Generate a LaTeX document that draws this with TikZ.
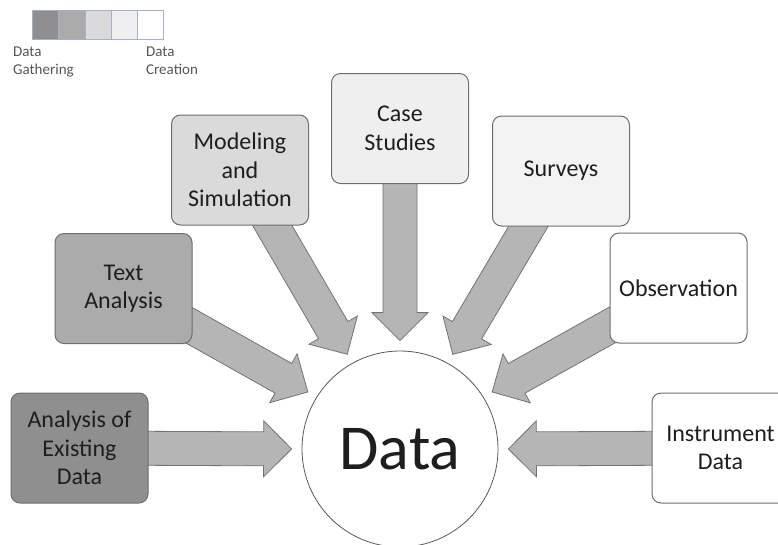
\documentclass[tikz,border=0pt]{standalone}
\usepackage{fontspec}
\setmainfont{Carlito}
\usetikzlibrary{calc,backgrounds}

\definecolor{boxline}{HTML}{6E6E6E}
\definecolor{boxtext}{HTML}{1E1E1E}
\definecolor{arrfill}{HTML}{B5B5B5}
\definecolor{arrline}{HTML}{737373}
\definecolor{circline}{HTML}{5A5A5A}
\definecolor{legline}{HTML}{A3B2C6}
\definecolor{legtext}{HTML}{555555}
\definecolor{shadeA}{HTML}{8F8F8F}
\definecolor{shadeB}{HTML}{ABABAB}
\definecolor{shadeC}{HTML}{DADADA}
\definecolor{shadeD}{HTML}{EFEFEF}
\definecolor{shadeE}{HTML}{F3F3F3}

\tikzset{
  databox/.style={draw=boxline, line width=1pt, rounded corners=9pt,
    minimum width=137pt, minimum height=110pt, align=center,
    text=boxtext, font=\fontsize{24}{28.5}\selectfont},
  datacircle/.style={circle, draw=circline, line width=0.8pt, fill=white,
    minimum size=196pt, inner sep=0pt, text=boxtext,
    font=\fontsize{64}{70}\selectfont},
  fatarrow/.style={draw=arrline, fill=arrfill, line width=0.8pt},
  legbox/.style={draw=legline, line width=0.8pt},
  legnote/.style={anchor=north west, inner sep=0pt, align=left,
    text=legtext, font=\fontsize{15}{17.5}\selectfont}
}

% block arrow from the centre of #1 to just short of #2
\newcommand{\fatarrow}[2]{%
  \draw[fatarrow] let \p1=(#1), \p2=($(#2)!10pt!(#1)$),
      \p3=($(\p2)!28pt!(\p1)$) in
    ($(\p1)!17pt!90:(\p2)$) -- ($(\p3)!17pt!-90:(\p1)$)
    -- ($(\p3)!28pt!-90:(\p1)$) -- (\p2)
    -- ($(\p3)!28pt!90:(\p1)$) -- ($(\p3)!17pt!90:(\p1)$)
    -- ($(\p1)!17pt!-90:(\p2)$) -- cycle;}

\begin{document}
\begin{tikzpicture}[x=1pt,y=-1pt]
  \useasboundingbox (0,0) rectangle (778,544);

  % legend
  \draw[legbox, fill=shadeA] (32,10) rectangle (58,39);
  \draw[legbox, fill=shadeB] (58,10) rectangle (85,39);
  \draw[legbox, fill=shadeC] (85,10) rectangle (111,39);
  \draw[legbox, fill=shadeD] (111,10) rectangle (137,39);
  \draw[legbox, fill=white] (137,10) rectangle (163,39);
  \node[legnote] (gather) at (13,47) {Data\\Gathering};
  \node[legnote] (create) at (146,47) {Data\\Creation};

  % sources
  \node[databox, fill=shadeA] (existing) at (79.5,448) {Analysis of\\Existing\\Data};
  \node[databox, fill=shadeB] (textan) at (123.5,288.5) {Text\\Analysis};
  \node[databox, fill=shadeC] (modeling) at (240,170) {Modeling\\and\\Simulation};
  \node[databox, fill=shadeD] (casest) at (400,128.5) {Case\\Studies};
  \node[databox, fill=shadeE] (surveys) at (561,171) {Surveys};
  \node[databox, fill=white] (observ) at (678.5,288) {Observation};
  \node[databox, fill=white] (instrument) at (720.5,448) {Instrument\\Data};

  \node[datacircle] (data) at (400,449) {Data};

  \begin{pgfonlayer}{background}
    \fatarrow{existing}{data.180}
    \fatarrow{textan}{data.148}
    \fatarrow{modeling}{data.119}
    \fatarrow{casest}{data.90}
    \fatarrow{surveys}{data.61}
    \fatarrow{observ}{data.32}
    \fatarrow{instrument}{data.0}
  \end{pgfonlayer}
\end{tikzpicture}
\end{document}
